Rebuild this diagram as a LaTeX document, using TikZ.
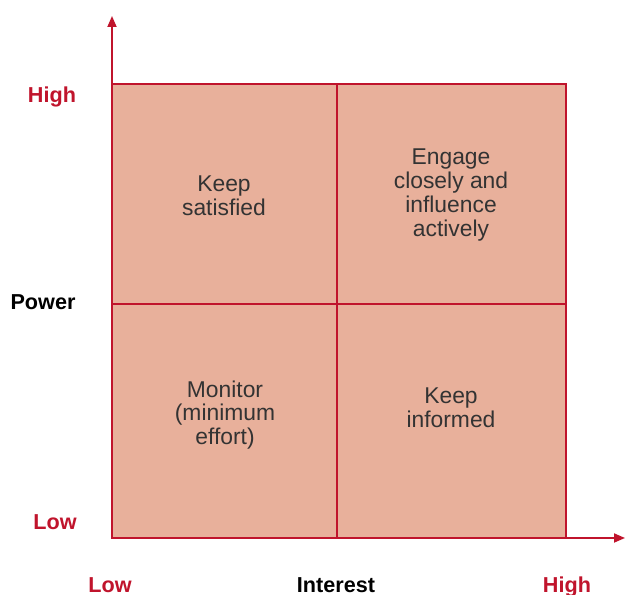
\documentclass[tikz,border=0pt]{standalone}
\usepackage{fontspec}
\setmainfont{Liberation Sans}
\usepackage{tikz}
\usetikzlibrary{arrows.meta, positioning}
\definecolor{gridred}{HTML}{C0142C}
\definecolor{quadfill}{HTML}{E8B09B}
\definecolor{quadtext}{HTML}{333333}

\begin{document}
\begin{tikzpicture}[
  axis/.style={
    draw=gridred,
    line width=1pt,
    -{Triangle[length=2.2mm,width=1.8mm]}
  },
  divider/.style={
    draw=gridred,
    line width=0.9pt
  },
  quad/.style={
    align=center,
    text=quadtext,
    font=\fontsize{13}{13.6}\selectfont
  },
  level/.style={
    text=gridred,
    font=\fontsize{12.3}{14}\selectfont\bfseries
  },
  axislabel/.style={
    text=black,
    font=\fontsize{12.3}{14}\selectfont\bfseries
  }
]
  \useasboundingbox (0,0) rectangle (12.5,11.9);

  % corners of the grid
  \coordinate (origin) at (2.24,1.14);
  \coordinate (topleft) at (2.24,10.22);
  \coordinate (botright) at (11.32,1.14);
  \coordinate (topright) at (11.32,10.22);
  \coordinate (midtop) at (6.74,10.22);
  \coordinate (midbot) at (6.74,1.14);
  \coordinate (midleft) at (2.24,5.82);
  \coordinate (midright) at (11.32,5.82);
  \coordinate (ytip) at (2.24,11.58);
  \coordinate (xtip) at (12.5,1.14);

  \fill[quadfill] (origin) rectangle (topright);
  \draw[divider] (origin) rectangle (topright);
  \draw[divider] (midtop) -- (midbot);
  \draw[divider] (midleft) -- (midright);

  \draw[axis] (origin) -- (ytip);
  \draw[axis] (origin) -- (xtip);

  % quadrants
  \node[quad] (satisfied) at (4.48,7.98) {Keep\\satisfied};
  \node[quad] (engage) at (9.02,8.0) {Engage\\closely and\\influence\\actively};
  \node[quad] (monitor) at (4.5,3.6) {Monitor\\(minimum\\effort)};
  \node[quad] (informed) at (9.02,3.74) {Keep\\informed};

  % axis labels
  \node[level] (powhigh) at (1.04,9.96) {High};
  \node[axislabel] (power) at (0.86,5.86) {Power};
  \node[level] (powlow) at (1.1,1.46) {Low};
  \node[level] (intlow) at (2.2,0.2) {Low};
  \node[axislabel] (interest) at (6.72,0.2) {Interest};
  \node[level] (inthigh) at (11.34,0.16) {High};
\end{tikzpicture}
\end{document}
